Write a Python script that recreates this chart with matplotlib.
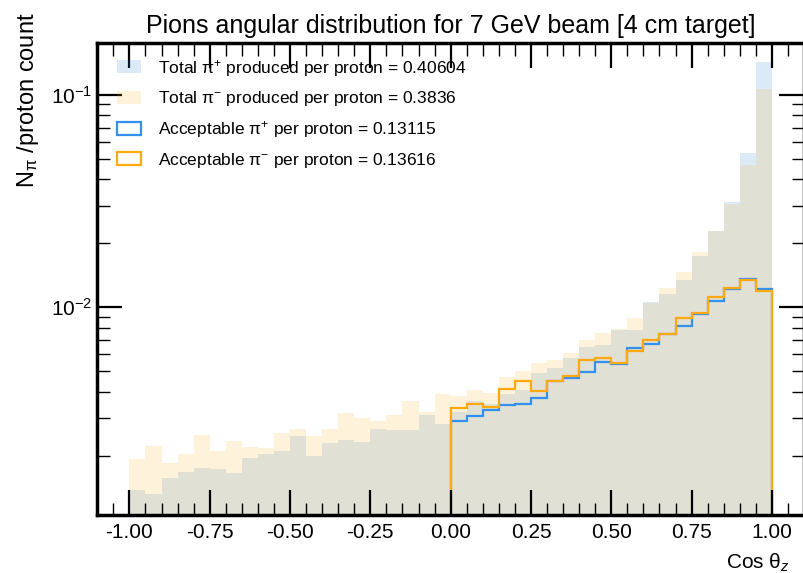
import matplotlib
matplotlib.use('Agg')
import matplotlib.pyplot as plt
import matplotlib.ticker as mticker
from matplotlib.patches import Patch
import numpy as np

# cos(theta_z) binning: 40 bins from -1 to 1
edges = np.linspace(-1, 1, 41)
edges_pos = np.linspace(0, 1, 21)

# total pi+ produced per proton (per bin)
tot_pip = [1.38e-3, 1.32e-3, 1.57e-3, 1.67e-3, 1.75e-3, 1.73e-3, 1.65e-3, 1.95e-3, 2.03e-3, 2.09e-3,
           2.46e-3, 1.98e-3, 2.28e-3, 2.38e-3, 2.31e-3, 2.67e-3, 2.64e-3, 2.64e-3, 3.11e-3, 2.81e-3,
           3.22e-3, 3.60e-3, 3.51e-3, 3.89e-3, 4.06e-3, 4.88e-3, 5.17e-3, 5.73e-3, 6.48e-3, 6.66e-3,
           7.76e-3, 7.76e-3, 1.062e-2, 1.150e-2, 1.341e-2, 1.747e-2, 2.275e-2, 3.128e-2, 5.29e-2, 1.419e-1]

# total pi- produced per proton (per bin)
tot_pim = [1.93e-3, 2.23e-3, 1.85e-3, 2.04e-3, 2.51e-3, 2.11e-3, 2.35e-3, 2.19e-3, 2.16e-3, 2.56e-3,
           2.67e-3, 2.47e-3, 2.67e-3, 3.18e-3, 2.99e-3, 2.91e-3, 3.11e-3, 3.63e-3, 3.21e-3, 3.88e-3,
           3.83e-3, 4.06e-3, 3.95e-3, 4.71e-3, 5.02e-3, 5.45e-3, 5.65e-3, 6.10e-3, 7.00e-3, 7.54e-3,
           7.91e-3, 8.87e-3, 1.044e-2, 1.234e-2, 1.455e-2, 1.817e-2, 2.275e-2, 3.05e-2, 4.66e-2, 1.067e-1]

# acceptable pions, only cos > 0
acc_pip = [2.91e-3, 3.08e-3, 3.29e-3, 3.45e-3, 3.49e-3, 3.72e-3, 4.47e-3, 4.65e-3, 4.94e-3, 5.53e-3,
           5.38e-3, 6.41e-3, 6.72e-3, 7.46e-3, 8.14e-3, 9.24e-3, 1.064e-2, 1.212e-2, 1.355e-2, 1.216e-2]
acc_pim = [3.36e-3, 3.48e-3, 3.37e-3, 4.10e-3, 4.48e-3, 4.01e-3, 4.49e-3, 4.75e-3, 5.65e-3, 5.74e-3,
           5.44e-3, 6.18e-3, 6.97e-3, 7.46e-3, 8.85e-3, 9.37e-3, 1.119e-2, 1.225e-2, 1.336e-2, 1.195e-2]

labels = [r'Total $\mathrm{\pi}^{+}$ produced per proton = 0.40604',
          r'Total $\mathrm{\pi}^{-}$ produced per proton = 0.3836',
          r'Acceptable $\mathrm{\pi}^{+}$ per proton = 0.13115',
          r'Acceptable $\mathrm{\pi}^{-}$ per proton = 0.13616']

blue = '#3f90da'
blue_line = '#3391ee'
orange = '#ffa90e'

fnt = 'Liberation Sans'
plt.rcParams['font.family'] = [fnt, 'DejaVu Sans']
plt.rcParams['mathtext.fontset'] = 'custom'
plt.rcParams['mathtext.rm'] = fnt
plt.rcParams['mathtext.it'] = fnt + ':italic'
plt.rcParams['mathtext.sf'] = fnt

fig = plt.figure(figsize=(8.04, 5.73), dpi=100)
ax = fig.add_axes([97.3/804, 1-515/573, (804-97.3)/804, (515-43)/573])

base = 1e-5
ax.stairs(tot_pip, edges, baseline=base, fill=True, color=blue, alpha=0.18, lw=0)
ax.stairs(tot_pim, edges, baseline=base, fill=True, color=orange, alpha=0.15, lw=0)
ax.stairs(acc_pip, edges_pos, baseline=base, color=blue_line, lw=1.6)
ax.stairs(acc_pim, edges_pos, baseline=base, color=orange, lw=1.6)

ax.set_yscale('log')
ax.set_xlim(-1.1, 1.1)
ax.set_ylim(1.05e-3, 0.175)

ax.xaxis.set_major_locator(mticker.MultipleLocator(0.25))
ax.xaxis.set_minor_locator(mticker.MultipleLocator(0.05))
ax.xaxis.set_major_formatter(mticker.FormatStrFormatter('%.2f'))
ax.yaxis.set_major_locator(mticker.LogLocator(base=10, numticks=10))
ax.yaxis.set_minor_locator(mticker.LogLocator(base=10, subs=np.arange(2, 10), numticks=10))
ax.yaxis.set_minor_formatter(mticker.NullFormatter())

ax.tick_params(which='both', direction='in', top=True, right=True, labelsize=15)
ax.tick_params(which='major', length=18, width=1.6)
ax.tick_params(which='minor', length=9, width=1.0)
ax.tick_params(axis='x', pad=6)
for s in ax.spines.values():
    s.set_linewidth(2.5)

ax.set_title('Pions angular distribution for 7 GeV beam [4 cm target]', fontsize=18, pad=7)
ax.set_xlabel(r'Cos $\mathrm{\theta}_{z}$', fontsize=15, loc='right')
ax.xaxis.set_label_coords(0.98, -0.078)
ax.set_ylabel(r'N$_{\mathrm{\pi}}$ /proton count', fontsize=17, loc='top')
ax.yaxis.set_label_coords(-0.08, 1.064)

handles = [Patch(facecolor=blue, alpha=0.18, edgecolor='none'),
           Patch(facecolor=orange, alpha=0.15, edgecolor='none'),
           Patch(facecolor='none', edgecolor=blue_line, lw=1.6),
           Patch(facecolor='none', edgecolor=orange, lw=1.6)]
ax.legend(handles, labels, loc='upper left', frameon=False, fontsize=12.5, handlelength=1.4,
          handleheight=0.75, labelspacing=0.62, handletextpad=1.0,
          borderaxespad=0.3, bbox_to_anchor=(0.01, 0.995))

fig.savefig('out.png', dpi=100)
